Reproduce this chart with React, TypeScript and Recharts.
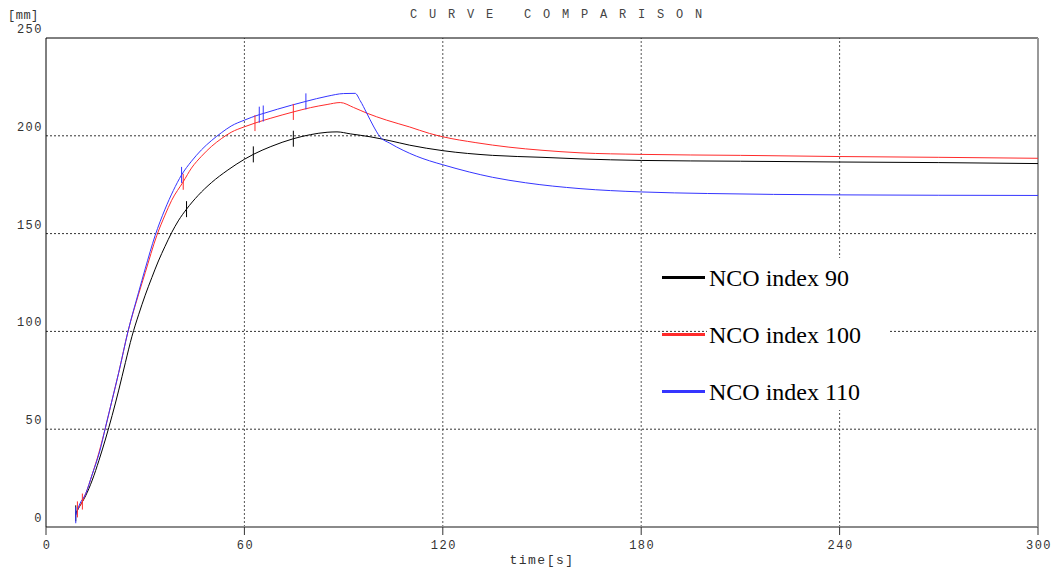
import { LineChart, Line, XAxis, YAxis, ReferenceLine } from "recharts";

const timeTicks = [0, 60, 120, 180, 240, 300];
const depthTicks = [0, 50, 100, 150, 200, 250];
const gridTimes = [60, 120, 180, 240];
const gridDepths = [50, 100, 150, 200];

// [time s, depth mm]
const nco90 = [
  [9, 7], [10, 10], [12, 16], [14, 24], [16, 34], [18, 45], [20, 57], [22, 70],
  [24, 84], [26, 97.5], [28, 108.5], [30, 118.5], [32, 127.5], [34, 136], [36, 143.5],
  [38, 150.5], [40, 156.5], [42.5, 162.5], [46, 169.5], [50, 176], [55, 182.5],
  [60, 188], [62.7, 190.5], [68, 194.5], [74.8, 198.5], [80, 200.6], [85, 201.8],
  [88, 202], [92, 201], [98, 199.5], [104, 197.5], [110, 195.2], [120, 192.4],
  [135, 190], [150, 189], [161.5, 188.2], [180, 187.4], [210, 187], [240, 186.6],
  [270, 186.3], [300, 185.8],
];
const nco100 = [
  [9.5, 9], [11, 13], [12, 17], [14, 27], [16, 38], [18, 51], [20, 65], [22, 79],
  [24.8, 100], [28, 119], [30, 130], [33.5, 149], [36, 159.5], [38, 167], [41.5, 176.5],
  [44, 183.5], [47, 189.5], [50, 194.5], [53, 198.5], [56, 201.8], [60, 204.6],
  [63.2, 206.5], [68, 209], [74.8, 212.2], [80, 214.4], [85, 216], [89, 217],
  [93, 214.5], [97, 211.6], [103, 208], [110, 204.5], [116, 201.2], [120, 199.5],
  [130, 196.5], [140, 194.2], [150, 192.6], [161.5, 191.3], [180, 190.5], [210, 190],
  [240, 189.4], [270, 189], [300, 188.5],
];
const nco110 = [
  [9, 6], [10, 11], [12, 17], [14, 27], [16.3, 39], [18, 51], [20, 65], [22, 79],
  [24.8, 100], [28, 120], [30, 132], [33, 149], [36, 162.5], [38.5, 172], [41, 180],
  [44, 187], [47, 192.8], [50, 197.5], [53, 201.5], [56, 205], [60, 208], [64.5, 210.8],
  [65.7, 211.4], [70, 213.6], [78.6, 217.6], [85, 220.2], [90, 221.6], [93.5, 221.7],
  [95, 218], [97, 211.6], [99, 205], [101, 199.5], [104, 196.2], [108, 192.6],
  [112, 189.6], [116, 187.2], [120, 185.2], [128, 181.5], [135, 178.8], [145, 176],
  [161.5, 173], [180, 171.3], [200, 170.5], [240, 169.8], [270, 169.6], [300, 169.5],
];

// times where the curve carries a short vertical tick
const nco90Marks = [9, 42.5, 62.7, 74.8];
const nco100Marks = [9.5, 11, 41.5, 63.2, 74.8];
const nco110Marks = [9, 41, 64.5, 65.7, 78.6];

const seriesNames = ["NCO index 90", "NCO index 100", "NCO index 110"];
const seriesColors = ["#000000", "#ff2b2b", "#3535ff"];

const build = (pts: number[][], marks: number[]) =>
  pts.map(([t, v]) => ({ t, v, mark: marks.includes(t) }));

const series = [
  build(nco90, nco90Marks),
  build(nco100, nco100Marks),
  build(nco110, nco110Marks),
];

const mono = "'Liberation Mono', 'DejaVu Sans Mono', monospace";

const tickDot = (color: string) => (props: any) => {
  const { cx, cy, payload, index } = props;
  if (!payload?.mark || cx == null) return <g key={index} />;
  return <line key={index} x1={cx} x2={cx} y1={cy - 8} y2={cy + 8} stroke={color} strokeWidth={1} />;
};

const YTick = ({ x, y, payload }: any) => (
  <text x={x} y={y - 5} textAnchor="end" fontFamily={mono} fontSize={12} letterSpacing={1.5} fill="#333">
    {payload.value}
  </text>
);

const XTick = ({ x, y, payload }: any) => (
  <text x={x + 1} y={y} dy="0.71em" textAnchor="middle" fontFamily={mono} fontSize={12} letterSpacing={1.5} fill="#333">
    {payload.value}
  </text>
);

export default function App() {
  return (
    <div style={{ position: "absolute", left: 0, top: 0, width: 1057, height: 569, background: "#fff" }}>
      <LineChart width={1057} height={569} margin={{ top: 38, right: 19, left: 0, bottom: 0 }}>
        <XAxis
          type="number"
          dataKey="t"
          domain={[0, 300]}
          ticks={timeTicks}
          height={42}
          tick={<XTick />}
          tickSize={8}
          tickMargin={5}
          axisLine={{ stroke: "#8a8a8a", strokeWidth: 2 }}
          tickLine={{ stroke: "#333" }}
          allowDuplicatedCategory={false}
          label={{ value: "time[s]", position: "insideBottom", offset: 5, fontFamily: mono, fontSize: 13, fill: "#333", letterSpacing: 1.5 }}
        />
        <YAxis
          type="number"
          dataKey="v"
          domain={[0, 250]}
          ticks={depthTicks}
          width={46}
          tick={<YTick />}
          tickSize={0}
          tickMargin={3}
          tickLine={false}
          axisLine={{ stroke: "#000" }}
        />
        {gridDepths.map((d) => (
          <ReferenceLine key={"h" + d} y={d} stroke="#333" strokeDasharray="2 2" />
        ))}
        {gridTimes.map((t) => (
          <ReferenceLine key={"v" + t} x={t} stroke="#555" strokeDasharray="2 2" />
        ))}
        <ReferenceLine y={250} stroke="#000" />
        <ReferenceLine x={300} stroke="#999" strokeWidth={2} />
        {series.map((data, i) => (
          <Line
            key={seriesNames[i]}
            data={data}
            dataKey="v"
            name={seriesNames[i]}
            type="monotone"
            stroke={seriesColors[i]}
            strokeWidth={1}
            dot={tickDot(seriesColors[i])}
            activeDot={false}
            isAnimationActive={false}
          />
        ))}
      </LineChart>

      <div style={{ position: "absolute", left: 410, top: 9, fontFamily: mono, fontSize: 12, letterSpacing: 11.8, color: "#444", whiteSpace: "pre", lineHeight: "12px" }}>
        CURVE COMPARISON
      </div>
      <div style={{ position: "absolute", left: 8, top: 10, fontFamily: mono, fontSize: 12, color: "#333", lineHeight: "12px", letterSpacing: 0.5 }}>
        [mm]
      </div>

      <div style={{ position: "absolute", left: 662, top: 258, display: "flex" }}>
        <div style={{ width: 45, height: 152, position: "relative" }}>
          {seriesNames.map((n, i) => (
            <div key={n} style={{ position: "absolute", left: 0, top: 18 + i * 57, width: 43, height: 3, background: seriesColors[i] }} />
          ))}
        </div>
        <div style={{ width: 183, height: 152, background: "#fff", position: "relative" }}>
          {seriesNames.map((n, i) => (
            <div key={n} style={{ position: "absolute", left: 2, top: 6 + i * 57, fontFamily: "'Liberation Serif', 'Times New Roman', serif", fontSize: 24, lineHeight: "28px", color: "#000", whiteSpace: "nowrap" }}>
              {n}
            </div>
          ))}
        </div>
      </div>
    </div>
  );
}
